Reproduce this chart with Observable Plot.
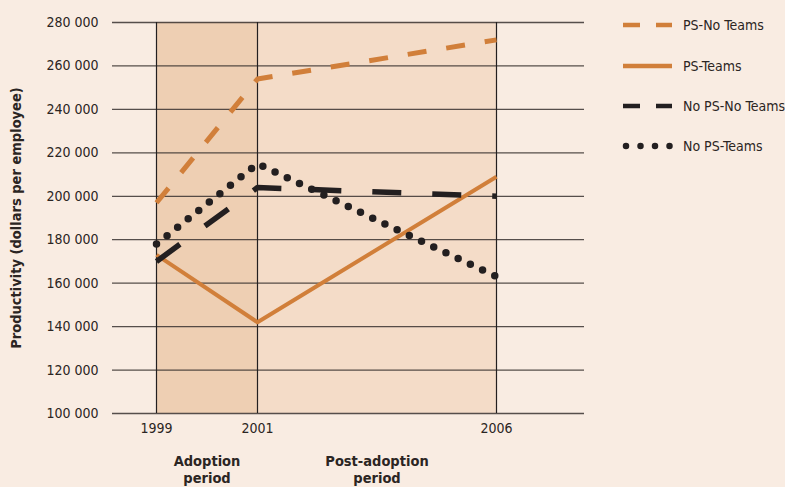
<!DOCTYPE html>
<html>
<head>
<meta charset="utf-8">
<script src="https://cdn.jsdelivr.net/npm/d3@7"></script>
<script src="https://cdn.jsdelivr.net/npm/@observablehq/plot@0.6"></script>
<style>
  html, body { margin: 0; padding: 0; background: #f9ece2; }
  #wrap { position: relative; width: 785px; height: 487px; overflow: hidden; background: #f9ece2;
          font-family: "DejaVu Sans Condensed", sans-serif; }
  #legend { position: absolute; left: 620px; top: 0; }
  .row { position: absolute; left: 0; height: 20px; display: flex; align-items: center; white-space: nowrap;
         font-size: 14px; color: #2b2523; }
  .row svg { margin-right: 6px; }
</style>
</head>
<body>
<div id="wrap"><div id="legend"></div></div>
<script>
// ---- data ----
const years = [1999, 2001, 2006];
const seriesNames = ["PS-No Teams", "PS-Teams", "No PS-No Teams", "No PS-Teams"];
const psNoTeams   = [197000, 254000, 272000];
const psTeams     = [173000, 142000, 209000];
const noPsNoTeams = [170000, 204000, 200000];
const noPsTeams   = [178000, 215000, 163000];
const yTicks = [100000, 120000, 140000, 160000, 180000, 200000, 220000, 240000, 260000, 280000];
const periodLabels = ["Adoption\nperiod", "Post-adoption\nperiod"];
const periodStart = [1999, 2001];
const periodEnd   = [2001, 2006];
const yLabel = "Productivity (dollars per employee)";

// ---- styles ----
const orange = "#d17f3a";
const black = "#231f20";
const styles = [
  {stroke: orange, strokeWidth: 5, strokeDasharray: "19,20", strokeLinecap: "butt"},
  {stroke: orange, strokeWidth: 4, strokeDasharray: null, strokeLinecap: "butt"},
  {stroke: black, strokeWidth: 5.5, strokeDasharray: "29,31", strokeLinecap: "butt"},
  {stroke: black, strokeWidth: 7.5, strokeDasharray: "0,13.5", strokeLinecap: "round"}
];
const seriesValues = [psNoTeams, psTeams, noPsNoTeams, noPsTeams];
const series = seriesNames.map((name, i) => ({
  name, style: styles[i],
  data: years.map((yr, j) => ({year: yr, value: seriesValues[i][j]}))
}));
const periods = periodLabels.map((label, i) => ({label, start: periodStart[i], end: periodEnd[i]}));
const yMin = yTicks[0], yMax = yTicks[yTicks.length - 1];
const fmt = d3.formatLocale({thousands: " ", grouping: [3]}).format(",");

const chart = Plot.plot({
  width: 785,
  height: 487,
  marginLeft: 112,
  marginRight: 201,
  marginTop: 22,
  marginBottom: 74,
  style: {background: "transparent", fontFamily: "'DejaVu Sans Condensed', sans-serif", fontSize: "14px", color: "#2b2523", overflow: "visible"},
  x: {type: "linear", domain: [1998.13, 1999, 2001, 2006, 2007.84], range: [112, 156, 257, 496, 584]},
  y: {domain: [yMin, yMax]},
  marks: [
    Plot.rect(periods, {x1: "start", x2: "end", y1: yMin, y2: yMax, fill: (d, i) => i === 0 ? "#eecfb3" : "#f4dcc8"}),
    Plot.ruleY(yTicks, {stroke: "#3a3330", strokeOpacity: 0.85, strokeWidth: 1.3}),
    Plot.ruleX(years, {y1: yMin, y2: yMax, stroke: black, strokeWidth: 1.2}),
    ...series.map(s => Plot.line(s.data, {x: "year", y: "value", ...s.style, strokeLinejoin: "round"})),
    Plot.axisY({ticks: yTicks, tickSize: 0, tickPadding: 14, tickFormat: fmt, label: null, fontSize: 14}),
    Plot.axisX({ticks: years, tickSize: 0, tickPadding: 10, tickFormat: d => String(d), label: null, fontSize: 14}),
    Plot.text(periods, {x: d => (d.start + d.end) / 2, text: "label", frameAnchor: "bottom", dy: 41, lineAnchor: "top",
                        fontWeight: "bold", fontSize: 14.5, lineHeight: 1.15, fill: "#2b2523"}),
    Plot.text([yLabel], {frameAnchor: "left", rotate: -90, dx: -96, textAnchor: "middle", fontWeight: "bold", fontSize: 14.5, fill: "#2b2523"})
  ]
});
document.getElementById("wrap").prepend(chart);

// ---- legend ----
const legend = document.getElementById("legend");
const rowTops = [15, 56, 96, 136];
series.forEach((s, i) => {
  const row = document.createElement("div");
  row.className = "row";
  row.style.top = rowTops[i] + "px";
  const st = s.style;
  const dash = st.strokeLinecap === "round" ? "0,14.5" : (st.strokeDasharray ? "17,16" : null);
  row.innerHTML = `<svg width="57" height="20"><line x1="${st.strokeLinecap === "round" ? 6 : 3}" x2="52" y1="10" y2="10" stroke="${st.stroke}"
      stroke-width="${st.strokeLinecap === "round" ? 6.5 : 4.5}" ${dash ? `stroke-dasharray="${dash}"` : ""} stroke-linecap="${st.strokeLinecap}"/></svg><span>${s.name}</span>`;
  legend.appendChild(row);
});
</script>
</body>
</html>
